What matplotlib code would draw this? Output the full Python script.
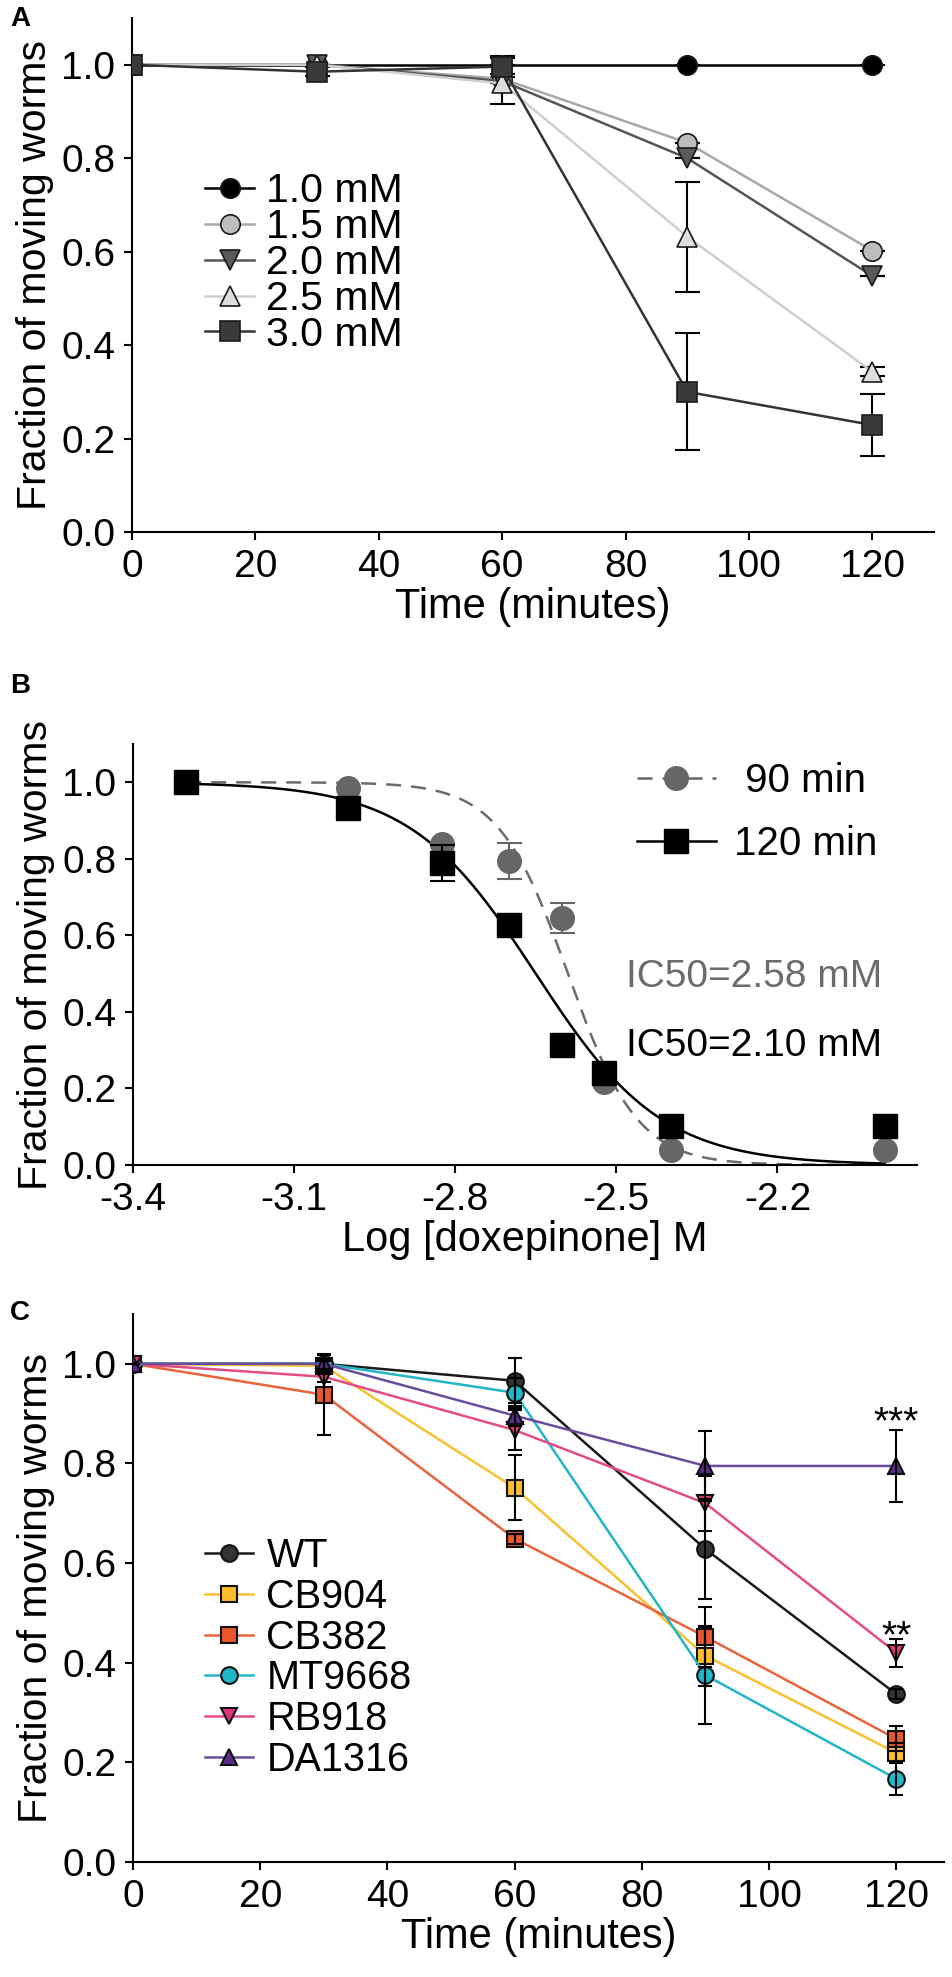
import numpy as np
import matplotlib.pyplot as plt
from matplotlib.ticker import FormatStrFormatter

plt.rcParams['font.family'] = ['Liberation Sans', 'DejaVu Sans']
plt.rcParams['axes.unicode_minus'] = False

W, H = 952, 1977

# ---- Panel A: fraction moving vs time for several doxepinone doses ----
time_a = [0, 30, 60, 90, 120]
dose_labels = ['1.0 mM', '1.5 mM', '2.0 mM', '2.5 mM', '3.0 mM']
frac_10 = [1.0, 1.0, 1.0, 1.0, 1.0]
frac_15 = [1.0, 1.0, 0.97, 0.833, 0.602]
frac_20 = [1.0, 1.0, 0.965, 0.80, 0.548]
frac_25 = [1.0, 1.0, 0.96, 0.632, 0.343]
frac_30 = [1.0, 0.985, 0.996, 0.30, 0.229]
err_10 = [0, 0, 0, 0, 0]
err_15 = [0, 0, 0.01, 0, 0]
err_20 = [0, 0, 0.05, 0, 0]
err_25 = [0, 0, 0, 0.118, 0.01]
err_30 = [0, 0.01, 0.022, 0.125, 0.067]

# ---- Panel B: dose response ----
log_conc = [-3.301, -3.0, -2.824, -2.699, -2.602, -2.523, -2.398, -2.0]
frac_90 = [1.0, 0.985, 0.838, 0.794, 0.645, 0.217, 0.039, 0.039]
err_90 = [0, 0, 0, 0.047, 0.04, 0, 0, 0]
frac_120 = [1.0, 0.932, 0.79, 0.627, 0.313, 0.24, 0.102, 0.102]
err_120 = [0, 0, 0.047, 0, 0, 0, 0, 0]
# fitted sigmoid (midpoint in log M, hill slope)
mid_90, hill_90 = -2.59, 6.7
mid_120, hill_120 = -2.65, 3.7
ic50_text_90 = 'IC50=2.58 mM'
ic50_text_120 = 'IC50=2.10 mM'

# ---- Panel C: strains at 3 mM ----
time_c = [0, 30, 60, 90, 120]
strains = ['WT', 'CB904', 'CB382', 'MT9668', 'RB918', 'DA1316']
frac_wt = [1.0, 1.0, 0.966, 0.628, 0.337]
frac_cb904 = [1.0, 0.996, 0.751, 0.414, 0.219]
frac_cb382 = [1.0, 0.938, 0.649, 0.452, 0.247]
frac_mt9668 = [1.0, 1.0, 0.942, 0.375, 0.167]
frac_rb918 = [1.0, 0.974, 0.867, 0.72, 0.42]
frac_da1316 = [1.0, 1.0, 0.896, 0.795, 0.795]
err_wt = [0, 0.02, 0.045, 0.10, 0.01]
err_cb904 = [0, 0.01, 0.065, 0.06, 0.02]
err_cb382 = [0, 0.08, 0.01, 0.06, 0.025]
err_mt9668 = [0, 0.01, 0.03, 0.097, 0.033]
err_rb918 = [0, 0.01, 0.04, 0.055, 0.028]
err_da1316 = [0, 0.01, 0.02, 0.07, 0.072]
stars = ['***', '**']
star_y = [0.86, 0.431]

fig = plt.figure(figsize=(W / 100, H / 100), dpi=100)


def add_ax(left, right, top, bottom):
    return fig.add_axes([left / W, 1 - bottom / H, (right - left) / W, (bottom - top) / H])


def style(ax):
    ax.spines['top'].set_visible(False)
    ax.spines['right'].set_visible(False)
    ax.spines['left'].set_linewidth(1.5)
    ax.spines['bottom'].set_linewidth(1.5)
    ax.tick_params(direction='out', length=6, width=1.5, labelsize=28, pad=6)
    ax.set_ylim(0, 1.1)
    ax.set_yticks(np.arange(0, 1.01, 0.2))
    ax.yaxis.set_major_formatter(FormatStrFormatter('%.1f'))
    ax.set_ylabel('Fraction of moving worms', fontsize=29.5, labelpad=5)


# ---------------- A ----------------
axA = add_ax(132, 934, 18, 532)
series_a = [
    (frac_10, err_10, 'o', 'black', 'black'),
    (frac_15, err_15, 'o', '#bdbdbd', '#a8a8a8'),
    (frac_20, err_20, 'v', '#5a5a5a', '#555555'),
    (frac_25, err_25, '^', '#dedede', '#cfcfcf'),
    (frac_30, err_30, 's', '#3a3a3a', '#333333'),
]
for (vals, errs, mk, fc, lc), lab in zip(series_a, dose_labels):
    axA.errorbar(time_a, vals, yerr=errs, fmt='none', ecolor='black',
                 elinewidth=1.5, capsize=9, capthick=1.5, zorder=2)
    axA.plot(time_a, vals, marker=mk, color=lc, markerfacecolor=fc,
             markeredgecolor='#1a1a1a', markeredgewidth=1.2, markersize=14,
             linewidth=1.8, label=lab, zorder=3)
axA.set_xlim(0, 130)
axA.set_xticks(range(0, 121, 20))
style(axA)
axA.set_xlabel('Time (minutes)', fontsize=30, labelpad=2)
axA.legend(loc='upper left', bbox_to_anchor=(205 / W, 1 - 172 / H),
           bbox_transform=fig.transFigure, frameon=False, fontsize=29.5,
           handlelength=1.2, handletextpad=0.3, labelspacing=-0.05,
           borderpad=0, borderaxespad=0, numpoints=1)

# ---------------- B ----------------
axB = add_ax(133, 917, 744, 1165)
xfit = np.linspace(log_conc[0], log_conc[-1], 400)
fit_90 = 1 / (1 + 10 ** ((xfit - mid_90) * hill_90))
fit_120 = 1 / (1 + 10 ** ((xfit - mid_120) * hill_120))
axB.plot(xfit, fit_90, color='#6b6b6b', linewidth=1.8, dashes=(6, 4), zorder=2)
axB.plot(xfit, fit_120, color='black', linewidth=1.8, zorder=2)
axB.errorbar(log_conc, frac_90, yerr=err_90, fmt='none', ecolor='#666666',
             elinewidth=1.5, capsize=9, capthick=1.5, zorder=3)
axB.errorbar(log_conc, frac_120, yerr=err_120, fmt='none', ecolor='black',
             elinewidth=1.5, capsize=9, capthick=1.5, zorder=5)
axB.plot(log_conc, frac_90, 'o', color='#666666', markersize=17, zorder=3)
axB.plot(log_conc, frac_120, 's', color='black', markersize=17, zorder=4)
h90, = axB.plot([], [], marker='o', color='#666666', markersize=17,
                linewidth=1.8, dashes=(6, 4))
h120, = axB.plot([], [], marker='s', color='black', markersize=17, linewidth=1.8)
axB.legend([h90, h120], [' 90 min', '120 min'], loc='upper left',
           bbox_to_anchor=(637 / W, 1 - 762 / H), bbox_transform=fig.transFigure,
           frameon=False, fontsize=29, handlelength=1.95, handletextpad=0.45,
           labelspacing=0.62, borderpad=0, borderaxespad=0, numpoints=1)
axB.text(-2.482, 0.49, ic50_text_90, color='#6b6b6b', fontsize=28, va='center')
axB.text(-2.482, 0.31, ic50_text_120, color='black', fontsize=28, va='center')
axB.set_xlim(-3.4, -1.94)
axB.set_xticks([-3.4, -3.1, -2.8, -2.5, -2.2])
axB.xaxis.set_major_formatter(FormatStrFormatter('%.1f'))
style(axB)
axB.set_xlabel('Log [doxepinone] M', fontsize=30, labelpad=2)

# ---------------- C ----------------
axC = add_ax(133, 944, 1314, 1862)
series_c = [
    (frac_wt, err_wt, 'o', '#333333', '#1a1a1a'),
    (frac_cb904, err_cb904, 's', '#fdbd2c', '#f9c030'),
    (frac_cb382, err_cb382, 's', '#e8582a', '#e8643a'),
    (frac_mt9668, err_mt9668, 'o', '#1fb8c9', '#22b5c6'),
    (frac_rb918, err_rb918, 'v', '#e2367c', '#e44c85'),
    (frac_da1316, err_da1316, '^', '#5b2a8c', '#6a4c9c'),
]
for (vals, errs, mk, fc, lc), lab in zip(series_c, strains):
    axC.plot(time_c, vals, marker=mk, color=lc, markerfacecolor=fc,
             markeredgecolor='#111111', markeredgewidth=1.5, markersize=12,
             linewidth=1.8, label=lab, zorder=3)
for vals, errs, mk, fc, lc in series_c:
    axC.errorbar(time_c, vals, yerr=errs, fmt='none', ecolor='black',
                 elinewidth=1.5, capsize=5, capthick=1.5, zorder=4)
for s, yv in zip(stars, star_y):
    axC.text(120, yv, s, fontsize=28, ha='center', va='baseline')
axC.set_xlim(0, 127.5)
axC.set_xticks(range(0, 121, 20))
style(axC)
axC.set_xlabel('Time (minutes)', fontsize=30, labelpad=2)
axC.legend(loc='upper left', bbox_to_anchor=(205 / W, 1 - 1537 / H),
           bbox_transform=fig.transFigure, frameon=False, fontsize=28.5,
           handlelength=1.2, handletextpad=0.35, labelspacing=0.07,
           borderpad=0, borderaxespad=0, numpoints=1)

# panel letters
for lab, ytop in zip(['A', 'B', 'C'], [6, 673, 1300]):
    fig.text(10 / W, 1 - ytop / H, lab, fontsize=20, fontweight='bold', va='top')

fig.savefig('out.png', dpi=100)
